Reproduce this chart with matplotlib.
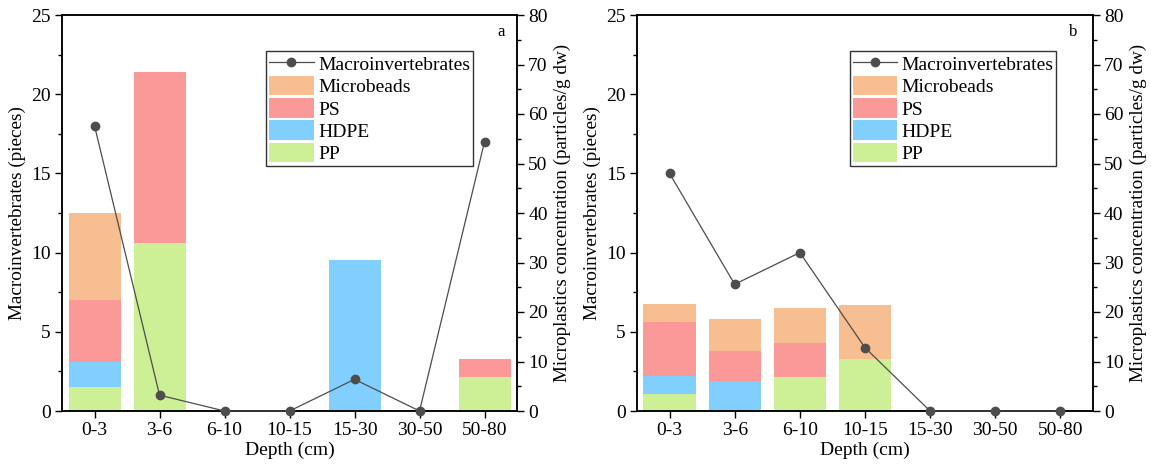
import matplotlib
matplotlib.use("Agg")
import matplotlib.pyplot as plt
from matplotlib.ticker import MultipleLocator
import numpy as np

plt.rcParams['font.family'] = ['Liberation Serif', 'DejaVu Serif']
plt.rcParams['mathtext.fontset'] = 'stix'

depths = ["0-3", "3-6", "6-10", "10-15", "15-30", "30-50", "50-80"]

# Panel a
macro_a = [18, 1, 0, 0, 2, 0, 17]
pp_a = [4.9, 34.0, 0, 0, 0, 0, 6.9]
hdpe_a = [5.0, 0, 0, 0, 30.6, 0, 0]
ps_a = [12.5, 34.4, 0, 0, 0, 0, 3.6]
beads_a = [17.7, 0, 0, 0, 0, 0, 0]

# Panel b
macro_b = [15, 8, 10, 4, 0, 0, 0]
pp_b = [3.4, 0, 6.8, 10.6, 0, 0, 0]
hdpe_b = [3.7, 6.1, 0, 0, 0, 0, 0]
ps_b = [10.8, 6.1, 7.0, 0, 0, 0, 0]
beads_b = [3.8, 6.4, 7.0, 10.85, 0, 0, 0]

colors = {"PP": "#cdef95", "HDPE": "#80cfff", "PS": "#fb9999", "Microbeads": "#f6be91"}
line_color = "#4d4d4d"
FS = 14
LFS = 13.8

fig = plt.figure(figsize=(11.51, 4.70), dpi=100)

panels = [
    (0.0539, 0.4492, macro_a, pp_a, hdpe_a, ps_a, beads_a, "a", 0.903, 0.965),
    (0.5534, 0.9496, macro_b, pp_b, hdpe_b, ps_b, beads_b, "b", 0.919, 0.956),
]

bottom_f = 1 - 411 / 470
top_f = 1 - 15 / 470

for (x0, x1, macro, pp, hdpe, ps, beads, tag, leg_x, tag_x) in panels:
    ax = fig.add_axes([x0, bottom_f, x1 - x0, top_f - bottom_f])
    x = np.arange(len(depths))
    w = 0.8
    pp = np.array(pp); hdpe = np.array(hdpe); ps = np.array(ps); beads = np.array(beads)
    b1 = ax.bar(x, pp, w, color=colors["PP"], label="PP", linewidth=0)
    b2 = ax.bar(x, hdpe, w, bottom=pp, color=colors["HDPE"], label="HDPE", linewidth=0)
    b3 = ax.bar(x, ps, w, bottom=pp + hdpe, color=colors["PS"], label="PS", linewidth=0)
    b4 = ax.bar(x, beads, w, bottom=pp + hdpe + ps, color=colors["Microbeads"], label="Microbeads", linewidth=0)
    ax.set_ylim(0, 80)
    ax.set_xlim(-0.5, 6.5)
    ax.yaxis.set_major_locator(MultipleLocator(10))
    ax.yaxis.set_minor_locator(MultipleLocator(5))
    ax.set_xticks(x)
    ax.set_xticklabels(depths, fontsize=FS)
    ax.set_xlabel("Depth (cm)", fontsize=FS, labelpad=2)

    ax2 = ax.twinx()
    ln, = ax2.plot(x, macro, color=line_color, marker='o', markersize=6, linewidth=0.9,
                   label="Macroinvertebrates", clip_on=False, zorder=5)
    ax2.set_ylim(0, 25)
    ax2.yaxis.set_major_locator(MultipleLocator(5))
    ax2.yaxis.set_minor_locator(MultipleLocator(2.5))

    # swap sides: bars (ax) use the right axis, line (ax2) the left axis
    ax.yaxis.tick_right()
    ax.yaxis.set_label_position('right')
    ax2.yaxis.tick_left()
    ax2.yaxis.set_label_position('left')
    ax.set_ylabel("Microplastics concentration (particles/g dw)", fontsize=LFS, labelpad=4)
    ax2.set_ylabel("Macroinvertebrates (pieces)", fontsize=LFS, labelpad=4)

    for a in (ax, ax2):
        a.tick_params(axis='both', which='major', direction='out', length=5, width=1,
                      labelsize=FS, pad=3)
        a.tick_params(axis='both', which='minor', direction='out', length=3, width=1)
        for s in a.spines.values():
            s.set_linewidth(1.1)
            s.set_color('black')
    ax.tick_params(axis='x', which='minor', bottom=False)
    ax2.tick_params(axis='x', which='both', top=False, bottom=False)

    ax2.text(tag_x, 0.957, tag, transform=ax2.transAxes, fontsize=12, ha='center', va='center')

    leg = ax2.legend([ln, b4, b3, b2, b1], ["Macroinvertebrates", "Microbeads", "PS", "HDPE", "PP"],
                     loc='upper right', bbox_to_anchor=(leg_x, 0.909), borderaxespad=0,
                     fontsize=FS, frameon=True, fancybox=False, handlelength=2.27,
                     handleheight=1.15, labelspacing=0.1, handletextpad=0.23,
                     borderpad=0.15)
    fr = leg.get_frame()
    fr.set_edgecolor('#333333')
    fr.set_linewidth(1.0)
    fr.set_alpha(1)

fig.savefig("out.png", dpi=100)
